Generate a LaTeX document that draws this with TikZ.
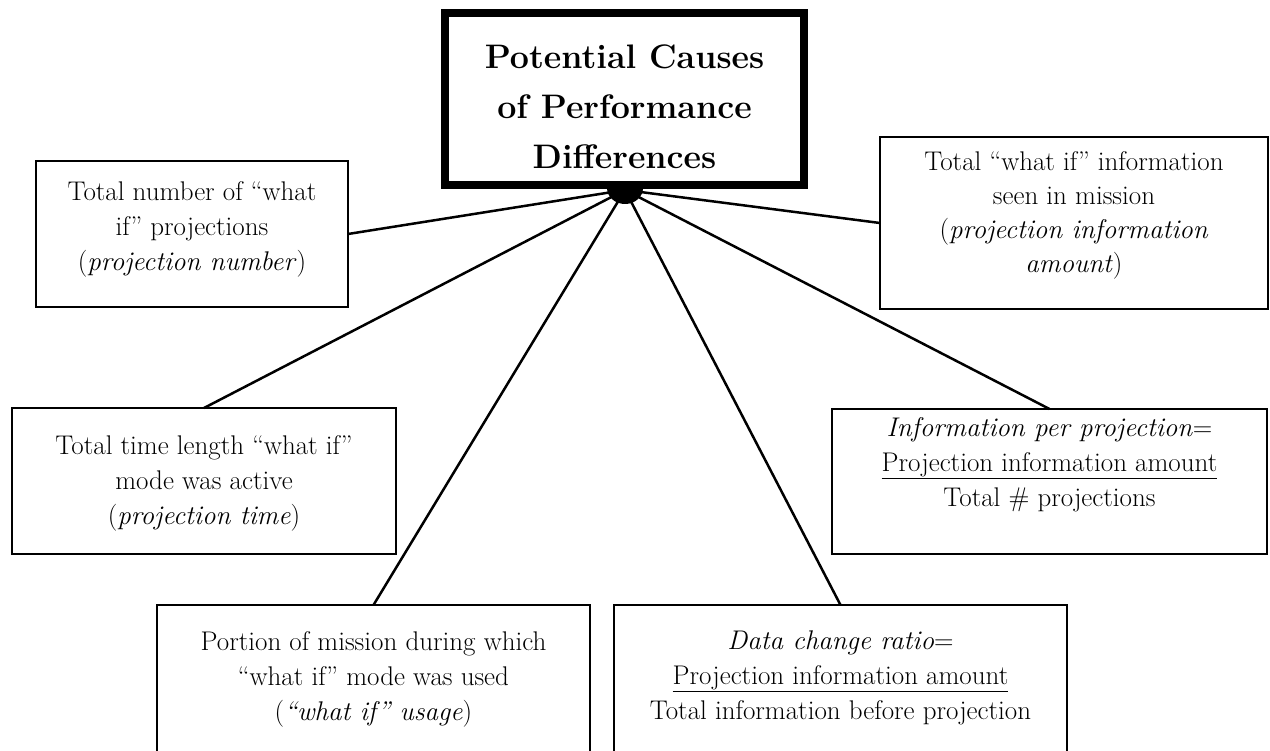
\documentclass[tikz,border=0pt]{standalone}
\usetikzlibrary{calc}
\tikzset{
  box/.style={draw, line width=2.5pt, inner sep=0pt, outer sep=0pt, rectangle},
  mainbox/.style={draw, line width=8pt, inner sep=0pt, outer sep=0pt, rectangle},
  txt/.style={align=center, inner sep=0pt, anchor=north, font=\fontsize{27}{35}\selectfont},
  ttl/.style={align=center, inner sep=0pt, anchor=north, font=\fontsize{34}{50}\selectfont\bfseries},
  conn/.style={line width=2.5pt},
}
\begin{document}
\begin{tikzpicture}[x=1pt,y=-1pt]
\path[use as bounding box, clip] (0,0) rectangle (1270,751);
\fill[white] (0,0) rectangle (1270,751);
% boxes
\node[box, minimum width=312pt, minimum height=146pt] (A) at (192,234) {};
\node[box, minimum width=388pt, minimum height=172pt] (B) at (1074,223) {};
\node[box, minimum width=384pt, minimum height=146pt] (C) at (204,481) {};
\node[box, minimum width=435pt, minimum height=145pt] (D) at (1049.5,481.5) {};
\node[box, minimum width=433pt, minimum height=195pt] (E) at (373.5,702.5) {};
\node[box, minimum width=453pt, minimum height=195pt] (F) at (840.5,702.5) {};
% hub
\coordinate (hub) at (625,190);
\draw[conn] (hub) -- (A.east);
\draw[conn] (hub) -- (B.west);
\draw[conn] (hub) -- (C.north);
\draw[conn] (hub) -- (D.north);
\draw[conn] (hub) -- (E.north);
\draw[conn] (hub) -- (F.north);
\fill[black] (607,188) arc[start angle=180, end angle=360, x radius=18pt, y radius=16pt] -- cycle;
% main box
\node[mainbox, fill=white, minimum width=359pt, minimum height=172pt] (M) at (624.5,99) {};
\node[ttl] (Mt) at (624.5,44.5) {Potential Causes\\of Performance\\Differences};
% texts
\node[txt] (At) at (192,181.5) {Total number of “what\\if” projections\\(\textit{projection number})};
\node[txt, font=\fontsize{27}{34}\selectfont] (Bt) at (1074,151.5) {Total “what if” information\\seen in mission\\(\textit{projection information}\\\textit{amount})};
\node[txt] (Ct) at (204,435.5) {Total time length “what if”\\mode was active\\(\textit{projection time})};
\node[txt] (Dt) at (1049.5,417.5) {\textit{Information per projection}=\\\underline{Projection information amount}\\Total \# projections};
\node[txt] (Et) at (373.5,631.5) {Portion of mission during which\\“what if” mode was used\\(\textit{“what if” usage})};
\node[txt] (Ft) at (840.5,630.5) {\textit{Data change ratio}=\\\underline{Projection information amount}\\Total information before projection};
\end{tikzpicture}
\end{document}
